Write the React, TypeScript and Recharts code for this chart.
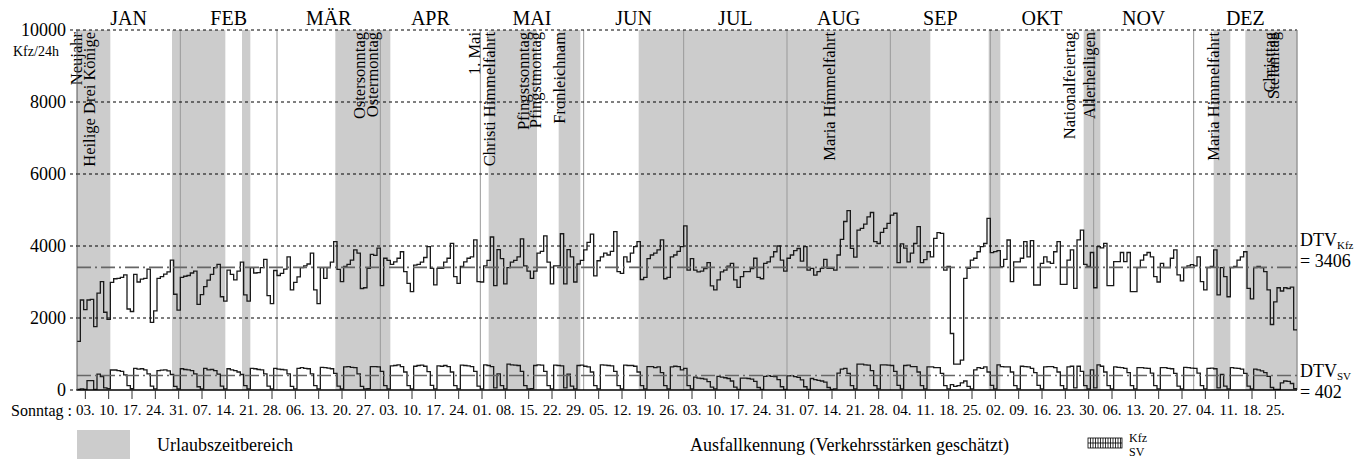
import React from 'react';
import { ComposedChart, Line, XAxis, YAxis, ReferenceLine, ReferenceArea } from 'recharts';

// Tagesverkehr 2016, Kfz/24h
const kfzJan = [1350, 2500, 2230, 2500, 2520, 1760, 2690, 3010, 2160, 1960, 2990, 3090, 3100, 3130, 3200, 2250, 2180, 3210, 3000, 3080, 3100, 3360, 1880, 2200, 3100, 3150, 3220, 3280, 3610, 2660, 2220];
const kfzFeb = [3130, 3160, 3180, 3250, 3300, 2380, 2650, 2870, 3050, 3210, 3400, 3490, 2590, 2470, 3330, 3210, 3060, 3300, 3550, 2640, 2470, 3400, 3250, 3260, 3400, 3630, 2620, 2400, 3320];
const kfzMar = [3180, 3240, 3360, 3700, 2780, 2990, 3140, 3400, 3450, 3500, 3800, 2780, 2400, 3400, 3100, 3400, 3550, 4120, 3350, 3010, 3430, 3490, 3610, 3890, 3800, 2820, 2840, 3380, 3770, 3740, 3940];
const kfzApr = [2900, 3660, 3600, 3490, 3560, 3660, 3840, 3290, 2960, 2730, 3470, 3490, 3550, 3680, 3980, 3380, 2920, 3380, 3380, 3550, 3660, 4075, 3150, 2960, 3430, 3560, 3660, 3700, 4170, 3010];
const kfzMay = [3000, 3450, 3600, 4250, 2900, 3900, 3650, 2950, 3400, 3550, 3600, 3700, 4200, 3450, 3300, 3100, 3300, 3800, 3850, 4280, 3550, 2950, 3450, 3450, 4340, 2950, 3900, 3700, 3000, 3500, 3600];
const kfzJun = [3890, 4100, 4330, 3170, 3590, 3700, 3800, 3750, 3850, 4400, 3290, 3240, 3700, 3560, 3800, 3980, 4120, 3070, 3130, 3650, 3750, 3800, 3890, 4170, 3090, 3130, 3700, 3750, 3850, 3980];
const kfzJul = [4560, 3330, 3650, 3330, 3280, 3300, 3370, 3540, 2890, 2780, 3060, 3280, 3330, 3440, 3520, 3060, 2850, 3150, 3290, 3290, 3370, 3660, 3130, 3090, 3520, 3560, 3700, 3840, 4000, 3610, 3300];
const kfzAug = [3660, 3750, 3870, 3930, 3580, 3980, 3330, 3380, 3190, 3290, 3380, 3630, 3380, 3380, 3330, 3750, 4185, 4680, 4980, 3935, 3690, 4440, 4490, 4610, 4810, 4930, 4120, 4070, 4380, 4490, 4630];
const kfzSep = [4860, 4910, 3540, 4060, 3940, 3560, 3800, 4070, 4540, 3540, 3620, 3840, 3700, 4210, 4370, 4350, 3330, 3430, 1570, 720, 720, 830, 3100, 3380, 3610, 3660, 3840, 3980, 4070, 4770];
const kfzOct = [3815, 3843, 3870, 3426, 3630, 4167, 3009, 3560, 3560, 3660, 4120, 3700, 4148, 2917, 2917, 3520, 3700, 3560, 3520, 3840, 4120, 2935, 2935, 3610, 3890, 2825, 4170, 4440, 3490, 3430, 3820];
const kfzNov = [2840, 3980, 3950, 4075, 2900, 2900, 3565, 3565, 3820, 3565, 3820, 2730, 2730, 3400, 3610, 3750, 3820, 3700, 3150, 3000, 3520, 3400, 3400, 3660, 3890, 3200, 3030, 3400, 3450, 3480];
const kfzDec = [3450, 3700, 3010, 2780, 3400, 3430, 3890, 2640, 3400, 3150, 2590, 3400, 3430, 3610, 3700, 3840, 2825, 2530, 3400, 3430, 3400, 3290, 2780, 1820, 2450, 2840, 2750, 2840, 2820, 2860, 1670];

// Schwerverkehr, Kfz/24h
const svJan = [20, 30, 20, 260, 260, 20, 440, 370, 60, 40, 555, 555, 540, 520, 420, 120, 35, 600, 580, 590, 560, 450, 110, 30, 540, 550, 560, 530, 430, 100, 30];
const svFeb = [590, 570, 560, 540, 450, 90, 30, 600, 560, 570, 540, 440, 110, 30, 590, 560, 540, 500, 430, 120, 30, 600, 590, 570, 560, 450, 110, 30, 600];
const svMar = [580, 570, 560, 450, 100, 30, 600, 620, 600, 590, 450, 120, 30, 630, 620, 610, 590, 460, 110, 30, 640, 650, 630, 620, 450, 100, 30, 40, 650, 650, 640];
const svApr = [520, 120, 30, 670, 680, 700, 650, 500, 120, 30, 660, 680, 690, 660, 510, 130, 30, 670, 660, 680, 650, 500, 120, 30, 690, 680, 670, 650, 520, 110];
const svMay = [30, 700, 680, 650, 60, 450, 120, 30, 720, 700, 690, 680, 520, 120, 30, 40, 680, 700, 690, 520, 120, 30, 690, 680, 670, 60, 440, 110, 30, 680, 690];
const svJun = [660, 640, 500, 120, 30, 700, 690, 680, 670, 520, 120, 30, 690, 680, 680, 660, 500, 120, 30, 650, 650, 620, 640, 480, 120, 30, 640, 660, 650, 560];
const svJul = [600, 120, 30, 360, 330, 320, 300, 230, 80, 30, 380, 360, 340, 320, 250, 80, 20, 330, 330, 320, 300, 240, 70, 20, 380, 400, 380, 370, 290, 90, 20];
const svAug = [390, 400, 370, 350, 280, 90, 20, 320, 290, 270, 250, 220, 70, 20, 30, 470, 580, 600, 460, 120, 30, 720, 720, 700, 690, 540, 120, 30, 700, 700, 690];
const svSep = [680, 520, 130, 30, 680, 690, 650, 650, 500, 120, 30, 640, 640, 620, 620, 460, 120, 30, 150, 100, 120, 200, 250, 100, 30, 560, 620, 600, 640, 500];
const svOct = [130, 30, 700, 650, 640, 640, 500, 120, 30, 660, 650, 640, 600, 480, 130, 30, 640, 650, 650, 620, 500, 120, 30, 640, 660, 60, 660, 520, 120, 30, 560];
const svNov = [60, 700, 660, 500, 120, 30, 640, 630, 620, 600, 480, 120, 30, 620, 620, 610, 600, 470, 120, 30, 620, 620, 600, 590, 460, 110, 30, 630, 620, 610];
const svDec = [600, 470, 120, 30, 600, 610, 590, 60, 430, 110, 30, 620, 610, 600, 580, 460, 110, 30, 580, 560, 530, 480, 380, 70, 20, 20, 200, 250, 240, 180, 40];

const dtvKfz = 3406;
const dtvSv = 402;

const months = ['JAN', 'FEB', 'MÄR', 'APR', 'MAI', 'JUN', 'JUL', 'AUG', 'SEP', 'OKT', 'NOV', 'DEZ'];
const monthStarts = [0, 31, 60, 91, 121, 152, 182, 213, 244, 274, 305, 335, 366];

const sundayLabels = [
  '03.', '10.', '17.', '24.', '31.', '07.', '14.', '21.', '28.', '06.', '13.', '20.', '27.',
  '03.', '10.', '17.', '24.', '01.', '08.', '15.', '22.', '29.', '05.', '12.', '19.', '26.',
  '03.', '10.', '17.', '24.', '31.', '07.', '14.', '21.', '28.', '04.', '11.', '18.', '25.',
  '02.', '09.', '16.', '23.', '30.', '06.', '13.', '20.', '27.', '04.', '11.', '18.', '25.',
];
const firstSunday = 2;

// Urlaubszeitbereiche (Tag im Jahr)
const holidayFrom = [0, 28.5, 49.5, 77.5, 123.5, 144.5, 168.5, 273.5, 302, 341, 350.5];
const holidayTo = [10, 44.5, 52, 94, 138, 151, 256, 277, 307, 346, 366];

const feiertage = [
  { name: 'Neujahr', day: 0 },
  { name: 'Heilige Drei Könige', day: 5 },
  { name: 'Ostersonntag', day: 86 },
  { name: 'Ostermontag', day: 87 },
  { name: '1. Mai', day: 121 },
  { name: 'Christi Himmelfahrt', day: 125 },
  { name: 'Pfingstsonntag', day: 135 },
  { name: 'Pfingstmontag', day: 136 },
  { name: 'Fronleichnam', day: 146 },
  { name: 'Maria Himmelfahrt', day: 227 },
  { name: 'Nationalfeiertag', day: 299 },
  { name: 'Allerheiligen', day: 305 },
  { name: 'Maria Himmelfahrt', day: 342 },
  { name: 'Christtag', day: 359 },
  { name: 'Stefanitag', day: 360 },
];
// labels pushed aside where two holidays follow each other
const labelShift: Record<string, number> = { Neujahr: 3, Ostermontag: 9, Pfingstmontag: 9, '1. Mai': -2 };

const FONT = '"Liberation Serif", "Times New Roman", serif';

const kfz = [...kfzJan, ...kfzFeb, ...kfzMar, ...kfzApr, ...kfzMay, ...kfzJun, ...kfzJul, ...kfzAug, ...kfzSep, ...kfzOct, ...kfzNov, ...kfzDec];
const sv = [...svJan, ...svFeb, ...svMar, ...svApr, ...svMay, ...svJun, ...svJul, ...svAug, ...svSep, ...svOct, ...svNov, ...svDec];

const data = kfz.map((v, i) => ({ day: i, kfz: v, sv: sv[i] }));
data.push({ day: kfz.length, kfz: kfz[kfz.length - 1], sv: sv[sv.length - 1] });

const sundayTicks = sundayLabels.map((_, i) => firstSunday + 0.5 + i * 7);
const monthCenters = months.map((_, i) => (monthStarts[i] + monthStarts[i + 1]) / 2);

const HolidayLabel = (props: any) => {
  const vb = props.viewBox || {};
  const x = vb.x + (props.shift || 0);
  const y = vb.y + 2;
  return (
    <text x={x} y={y} transform={`rotate(-90 ${x} ${y})`} textAnchor="end" fontSize={16.5} fontFamily={FONT} fill="#000">
      {props.text}
    </text>
  );
};

const DtvLabel = (props: any) => {
  const vb = props.viewBox || {};
  const x = vb.x + vb.width + 3;
  const y = vb.y;
  return (
    <g fontFamily={FONT} fill="#000">
      <text x={x} y={y + props.top} fontSize={18}>
        DTV<tspan fontSize={11} dy={3}>{props.sub}</tspan>
      </text>
      <text x={x} y={y + props.top + 21} fontSize={18}>{props.text}</text>
    </g>
  );
};

export default function App() {
  return (
    <div style={{ position: 'relative', width: 1372, height: 459, fontFamily: FONT, background: '#fff' }}>
      <style>{'body{margin:0}'}</style>
      <ComposedChart width={1372} height={459} data={data} margin={{ top: 0, right: 75, bottom: 29, left: 17 }}>
        {holidayFrom.map((f, i) => (
          <ReferenceArea key={'u' + i} x1={f} x2={holidayTo[i]} y1={0} y2={10000} fill="#cccccc" fillOpacity={1} stroke="none" ifOverflow="visible" />
        ))}
        {monthStarts.slice(1).map((m) => (
          <ReferenceLine key={'m' + m} x={m} stroke="#999" strokeWidth={1} />
        ))}
        {[2000, 4000, 6000, 8000, 10000].map((v) => (
          <ReferenceLine key={'g' + v} y={v} stroke="#000" strokeWidth={1} strokeDasharray="3 3" />
        ))}
        {feiertage.map((h, i) => (
          <ReferenceLine
            key={'h' + i}
            x={h.day + 0.5}
            stroke="none"
            label={<HolidayLabel text={h.name} shift={labelShift[h.name] || 0} />}
          />
        ))}
        <XAxis
          dataKey="day"
          type="number"
          domain={[0, 366]}
          ticks={sundayTicks}
          interval={0}
          tickFormatter={(v: number) => sundayLabels[Math.round((v - firstSunday - 0.5) / 7)]}
          tickSize={9}
          tickMargin={5}
          height={40}
          axisLine={{ stroke: '#000', strokeWidth: 1.2 }}
          tickLine={{ stroke: '#333' }}
          tick={{ fontSize: 15, fill: '#000', fontFamily: FONT }}
        />
        <XAxis
          xAxisId="top"
          orientation="top"
          type="number"
          domain={[0, 366]}
          ticks={monthCenters}
          interval={0}
          tickFormatter={(v: number) => months[monthCenters.indexOf(v)]}
          height={30}
          tickSize={0}
          tickMargin={5}
          axisLine={false}
          tickLine={false}
          tick={{ fontSize: 20, fill: '#000', fontFamily: FONT }}
        />
        <YAxis
          type="number"
          domain={[0, 10000]}
          ticks={[0, 2000, 4000, 6000, 8000, 10000]}
          interval={0}
          width={60}
          tickSize={7}
          tickMargin={4}
          axisLine={{ stroke: '#555' }}
          tickLine={{ stroke: '#000', strokeDasharray: '3 3' }}
          tick={{ fontSize: 18, fill: '#000', fontFamily: FONT }}
        />
        <ReferenceLine x={366} stroke="#999" />
        <Line type="stepAfter" dataKey="kfz" stroke="#1a1a1a" strokeWidth={1.3} dot={false} activeDot={false} isAnimationActive={false} />
        <Line type="stepAfter" dataKey="sv" stroke="#1a1a1a" strokeWidth={1.3} dot={false} activeDot={false} isAnimationActive={false} />
        <ReferenceLine
          y={dtvKfz}
          stroke="#666"
          strokeWidth={1.6}
          strokeDasharray="14 4 2 4"
          label={<DtvLabel sub="Kfz" text={'= ' + dtvKfz} top={-21} />}
        />
        <ReferenceLine
          y={dtvSv}
          stroke="#666"
          strokeWidth={1.6}
          strokeDasharray="14 4 2 4"
          label={<DtvLabel sub="SV" text={'=  ' + dtvSv} top={1} />}
        />
        <ReferenceLine y={0} stroke="#000" strokeWidth={1.2} />
      </ComposedChart>
      <svg width={1372} height={459} style={{ position: 'absolute', left: 0, top: 0, pointerEvents: 'none' }} fontFamily={FONT}>
        <text x={13} y={56} fontSize={14} fill="#000">Kfz/24h</text>
        <text x={72} y={416} fontSize={16} fill="#000" textAnchor="end">Sonntag :</text>
        <rect x={77} y={430} width={53} height={29} fill="#cccccc" />
        <text x={157} y={451} fontSize={18} fill="#000">Urlaubszeitbereich</text>
        <text x={690} y={451} fontSize={18} fill="#000">Ausfallkennung (Verkehrsstärken geschätzt)</text>
        <g stroke="#000" strokeWidth={0.8}>
          <rect x={1088} y={438} width={34} height={10} fill="none" />
          <line x1={1088} y1={443} x2={1122} y2={443} />
          {Array.from({ length: 13 }, (_, i) => (
            <line key={i} x1={1090.5 + i * 2.5} y1={438} x2={1090.5 + i * 2.5} y2={448} />
          ))}
        </g>
        <text x={1129} y={442} fontSize={12} fill="#000">Kfz</text>
        <text x={1129} y={456} fontSize={12} fill="#000">SV</text>
      </svg>
    </div>
  );
}
